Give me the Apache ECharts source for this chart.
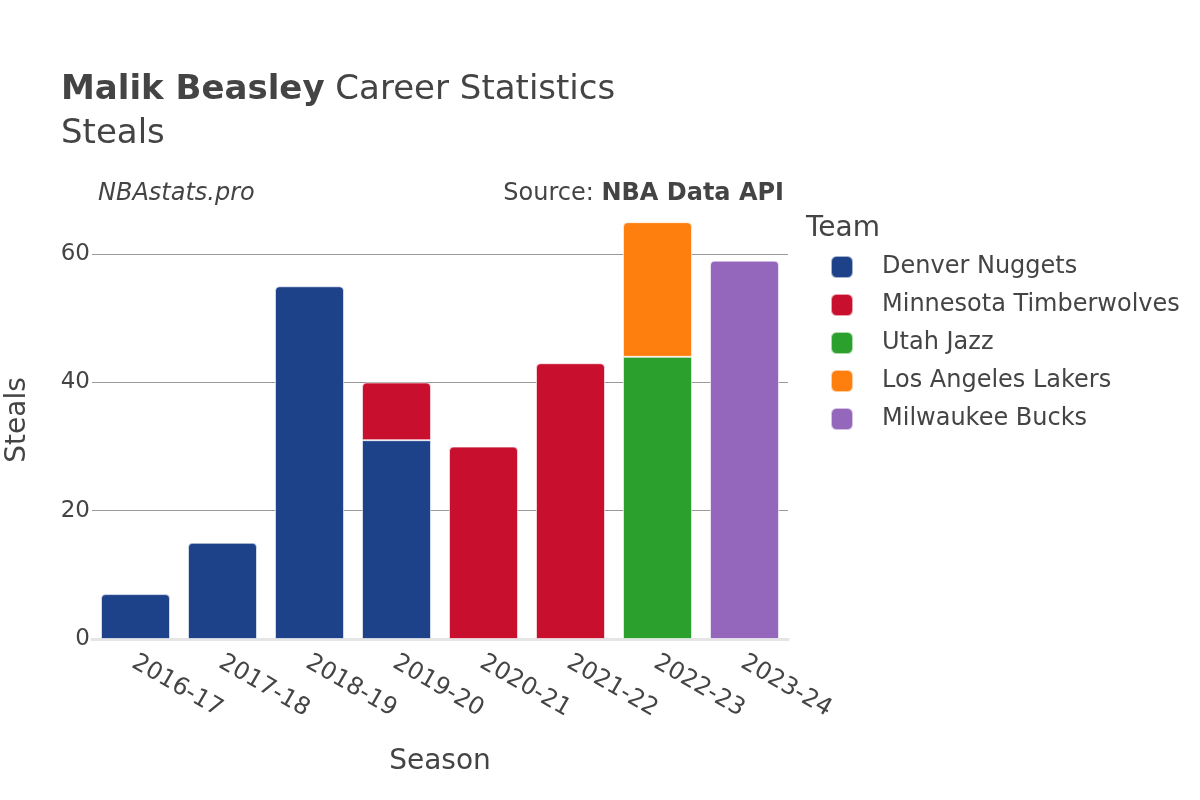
<!DOCTYPE html>
<html><head><meta charset="utf-8">
<script src="https://cdn.jsdelivr.net/npm/echarts@6/dist/echarts.min.js"></script>
<style>html,body{margin:0;padding:0;background:#fff}#c{width:1200px;height:800px}</style>
</head><body><div id="c"></div><script>
const seasons = ['2016-17','2017-18','2018-19','2019-20','2020-21','2021-22','2022-23','2023-24'];
const teams = ['Denver Nuggets','Minnesota Timberwolves','Utah Jazz','Los Angeles Lakers','Milwaukee Bucks'];
const teamColors = ['#1d428a','#c8102e','#2ca02c','#ff7f0e','#9467bd'];
const denver    = [7, 15, 55, 31, null, null, null, null];
const minnesota = [null, null, null, 9, 30, 43, null, null];
const utah      = [null, null, null, null, null, null, 44, null];
const lakers    = [null, null, null, null, null, null, 21, null];
const bucks     = [null, null, null, null, null, null, null, 59];
const teamValues = [denver, minnesota, utah, lakers, bucks];

const FONT = 'DejaVu Sans';
const TXT = '#444';

const series = teams.map((name, ti) => ({
  name: name,
  type: 'bar',
  stack: 'total',
  barWidth: 69,
  itemStyle: { color: teamColors[ti], borderColor: 'rgba(255,255,255,0.6)', borderWidth: 1 },
  emphasis: { disabled: true },
  data: teamValues[ti].map((v, si) => {
    if (v == null) return '-';
    let isTop = true;
    for (let k = ti + 1; k < teamValues.length; k++) if (teamValues[k][si] != null) isTop = false;
    return { value: v, itemStyle: { borderRadius: isTop ? [4, 4, 0, 0] : 0 } };
  })
}));

const chart = echarts.init(document.getElementById('c'), null, { renderer: 'canvas' });
chart.setOption({
  backgroundColor: '#fff',
  animation: false,
  textStyle: { fontFamily: FONT },
  title: [
    { text: '{b|Malik Beasley} Career Statistics', left: 56, top: 68,
      textStyle: { fontFamily: FONT, fontSize: 34, fontWeight: 'normal', color: TXT,
        rich: { b: { fontFamily: FONT, fontSize: 34, fontWeight: 'bold', color: TXT } } } },
    { text: 'Steals', left: 56, top: 112,
      textStyle: { fontFamily: FONT, fontSize: 34, fontWeight: 'normal', color: TXT } },
    { text: 'NBAstats.pro', left: 93, top: 177,
      textStyle: { fontFamily: FONT, fontSize: 24, fontStyle: 'italic', fontWeight: 'normal', color: TXT } },
    { text: 'Source: {b|NBA Data API}', right: 411, top: 177,
      textStyle: { fontFamily: FONT, fontSize: 24, fontWeight: 'normal', color: TXT,
        rich: { b: { fontFamily: FONT, fontSize: 24, fontWeight: 'bold', color: TXT } } } },
    { text: 'Team', left: 801, top: 210,
      textStyle: { fontFamily: FONT, fontSize: 28, fontWeight: 'normal', color: TXT } }
  ],
  legend: {
    orient: 'vertical', left: 825, top: 250,
    itemWidth: 22, itemHeight: 22, itemGap: 14,
    icon: 'roundRect',
    textStyle: { fontFamily: FONT, fontSize: 24, lineHeight: 22, color: TXT, padding: [0, 0, 0, 24] },
    data: teams
  },
  grid: { left: 92, right: 412, top: 201, bottom: 161, outerBoundsMode: 'none' },
  xAxis: {
    type: 'category', data: seasons,
    name: 'Season', nameLocation: 'middle', nameGap: 109,
    nameTextStyle: { fontFamily: FONT, fontSize: 28, color: TXT },
    axisLine: { show: true, lineStyle: { color: '#e5e5e5', width: 3 } },
    axisTick: { show: false },
    axisLabel: { rotate: -30, align: 'center', margin: 23, padding: [0, 0, 40, 96],
      fontFamily: FONT, fontSize: 24, color: TXT }
  },
  yAxis: {
    type: 'value', min: 0, max: 68.3, interval: 20,
    name: 'Steals', nameLocation: 'middle', nameGap: 60,
    nameTextStyle: { fontFamily: FONT, fontSize: 28, color: TXT },
    axisLine: { show: false }, axisTick: { show: false },
    axisLabel: { margin: 2, padding: [5, 0, 0, 0], fontFamily: FONT, fontSize: 23, color: TXT, showMaxLabel: false, showMinLabel: true },
    splitLine: { show: true, showMaxLine: false, showMinLine: false, lineStyle: { color: '#999', width: 1 } }
  },
  series: series
});
</script></body></html>
